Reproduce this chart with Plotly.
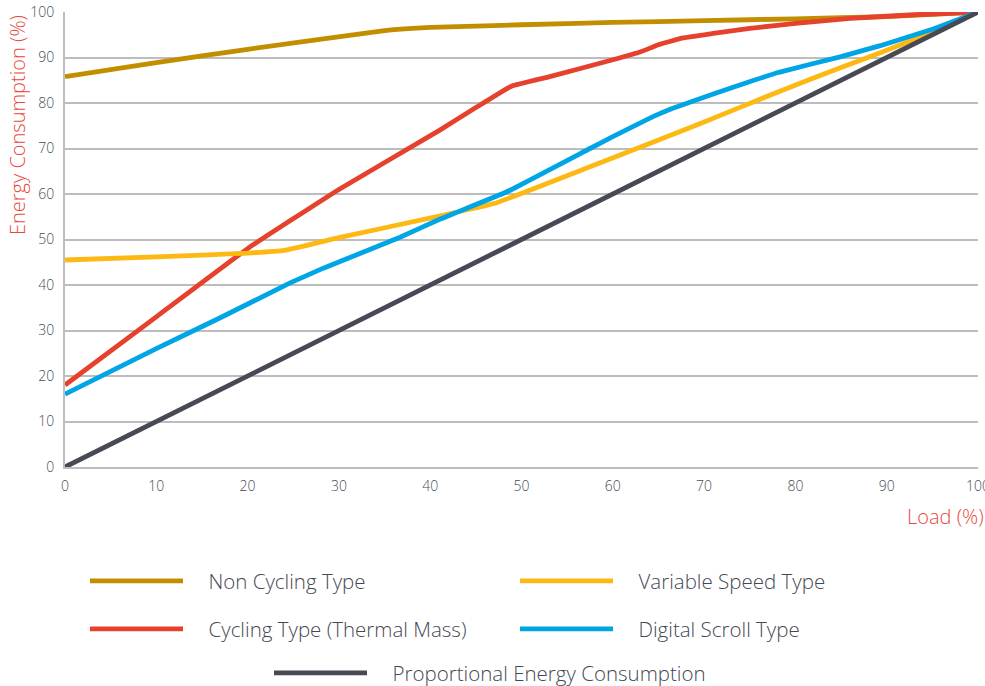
import plotly.graph_objects as go

# ---- data ----
load_non_cycling = [0, 10, 20, 35, 40, 50, 60, 70, 80, 90, 100]
energy_non_cycling = [85.8, 88.9, 91.8, 95.9, 96.6, 97.2, 97.7, 98.1, 98.5, 99.0, 100]

load_cycling = [0, 10, 20, 30, 41.1, 45, 48.9, 53.1, 60, 63, 65, 67.7, 71, 75, 80, 86, 93, 100]
energy_cycling = [18, 33, 48, 61, 74.1, 79, 83.7, 85.8, 89.5, 91.2, 92.8, 94.3, 95.3, 96.4, 97.5, 98.6, 99.4, 100]

load_variable = [0, 10, 20, 24, 30, 41.1, 47, 57.5, 69.6, 78.3, 85, 90, 95, 100]
energy_variable = [45.5, 46.2, 47.0, 47.6, 50.4, 55.2, 57.9, 66.0, 75.5, 82.6, 87.8, 91.6, 95.6, 100]

load_digital = [0, 10, 17, 24.6, 28.3, 36.7, 41.1, 48.4, 57.5, 60, 64.4, 66.5, 69.6, 74, 78.3, 85, 89.3, 95, 100]
energy_digital = [16, 26, 32.8, 40.4, 43.7, 50.5, 54.5, 60.5, 70.0, 72.6, 77.0, 78.8, 81.0, 84.0, 86.8, 90.2, 92.6, 96.2, 100]

load_prop = [0, 100]
energy_prop = [0, 100]

x_ticks = [0, 10, 20, 30, 40, 50, 60, 70, 80, 90, 100]
y_ticks = [0, 10, 20, 30, 40, 50, 60, 70, 80, 90, 100]

names = ["Non Cycling Type", "Variable Speed Type", "Cycling Type (Thermal Mass)",
         "Digital Scroll Type", "Proportional Energy Consumption"]
colors = ["#C28E00", "#FDB813", "#E5412D", "#00A5E6", "#474954"]

series = [
    (load_non_cycling, energy_non_cycling),
    (load_variable, energy_variable),
    (load_cycling, energy_cycling),
    (load_digital, energy_digital),
    (load_prop, energy_prop),
]
legend_ids = ["legend", "legend2", "legend3", "legend4", "legend5"]

W, H = 985, 686
L, R, T, B = 65, 7, 12, 219
pw = W - L - R
ph = H - T - B

def px_x(px):
    return (px - L) / pw

def px_y(py):
    return (H - B - py) / ph

FONT = "'Open Sans', Lato, sans-serif"
GAP = "\u2002\u2002"

fig = go.Figure()
order = [0, 2, 1, 3, 4]
for i in order:
    xs, ys = series[i]
    fig.add_trace(go.Scatter(
        x=xs, y=ys, mode="lines", name=GAP + names[i], legend=legend_ids[i],
        showlegend=True,
        line=dict(color=colors[i], width=4.8, shape="spline", smoothing=0.3),
    ))

legend_font = dict(family=FONT, size=20.5, color="#454854", weight=300)
common_leg = dict(orientation="v", xanchor="left", yanchor="middle",
                  font=legend_font, itemwidth=93,
                  bgcolor="rgba(0,0,0,0)", borderwidth=0)

# legend anchor positions (pixels) : left edge of swatch area, row center
leg_pos = [(85, 581), (515, 581), (85, 629), (515, 629), (269, 673)]
legend_layout = {}
for lid, (lx, ly) in zip(legend_ids, leg_pos):
    legend_layout[lid] = dict(x=px_x(lx), y=px_y(ly), **common_leg)

tick_font = dict(family=FONT, size=14, color="#4a4c56", weight=300)

fig.update_layout(
    width=W, height=H,
    showlegend=True,
    margin=dict(l=L, r=R, t=T, b=B, autoexpand=False),
    paper_bgcolor="white", plot_bgcolor="white",
    font=dict(family=FONT, color="#4a4c56", size=14),
    xaxis=dict(range=[0, 100], tickvals=x_ticks, showgrid=False, automargin=False,
               showline=True, linecolor="#BDBDBD", linewidth=2,
               zeroline=False, ticks="", ticklabelstandoff=5,
               ticklabeloverflow="allow", tickfont=tick_font),
    yaxis=dict(range=[0, 100], tickvals=y_ticks, showgrid=True, automargin=False,
               gridcolor="#BDBDBD", gridwidth=1.6,
               showline=True, linecolor="#BDBDBD", linewidth=2,
               zeroline=False, ticks="", ticklabelstandoff=6,
               ticklabeloverflow="allow", tickfont=tick_font),
    annotations=[
        dict(text="Energy Consumption (%)", textangle=-90, xref="paper", yref="paper",
             x=px_x(17), y=px_y(125), xanchor="center", yanchor="middle", showarrow=False,
             font=dict(family=FONT, size=20, color="#E8483A", weight=300)),
        dict(text="Load (%)", xref="paper", yref="paper",
             x=px_x(986), y=px_y(516), xanchor="right", yanchor="middle", showarrow=False,
             font=dict(family=FONT, size=20, color="#E8483A", weight=300)),
    ],
    **legend_layout,
)

fig.write_html("out.html", config={"displayModeBar": False},
               post_script="document.body.style.margin='0';document.body.style.overflow='hidden';")
